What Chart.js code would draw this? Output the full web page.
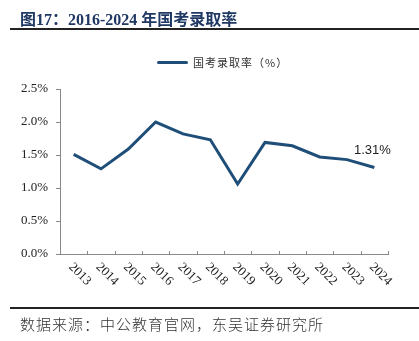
<!DOCTYPE html>
<html>
<head>
<meta charset="utf-8">
<script src="https://cdn.jsdelivr.net/npm/chart.js"></script>
<style>
    body { margin: 0; width: 419px; height: 341px; background: #fff; position: relative; overflow: hidden; }
    #chartBox { position: absolute; left: 0; top: 0; width: 419px; height: 341px; }
    .title {
        position: absolute; left: 20px; top: 6px;
        font-family: "Liberation Serif", "Noto Sans CJK SC", serif;
        font-weight: bold; font-size: 16px; color: #1f3864; white-space: nowrap;
    }
    .rule { position: absolute; left: 10px; width: 409px; height: 2px; background: #222; }
    .legend {
        position: absolute; left: 157px; top: 54px; height: 16px;
        font-family: "Noto Sans CJK SC", sans-serif; font-size: 11px; color: #333;
        display: flex; align-items: center; white-space: nowrap; letter-spacing: 1px;
    }
    .legend .swatch { width: 31px; height: 3px; background: #1f4e79; border-radius: 2px; margin-right: 5px; }
    .source {
        position: absolute; left: 20px; top: 313px;
        font-family: "Noto Sans CJK SC", serif; font-weight: 300; font-size: 15px; color: #333;
        letter-spacing: 1px; white-space: nowrap;
    }
</style>
</head>
<body>
<div id="chartBox"><canvas id="rateChart" width="419" height="341"></canvas></div>
<div class="title">图17：2016-2024 年国考录取率</div>
<div class="rule" style="top:28px"></div>
<div class="legend"><span class="swatch"></span>国考录取率（%）</div>
<div class="rule" style="top:307px"></div>
<div class="source">数据来源：中公教育官网，东吴证券研究所</div>

<script>
    // Categories and values
    const years = ["2013", "2014", "2015", "2016", "2017", "2018", "2019", "2020", "2021", "2022", "2023", "2024"];
    const admitRate = [1.51, 1.29, 1.59, 2.00, 1.82, 1.73, 1.06, 1.69, 1.64, 1.47, 1.43, 1.31];
    const yTicks = [0, 0.5, 1.0, 1.5, 2.0, 2.5];

    const lineColor = '#1f4e79';

    // Rotated year labels, small inward ticks and the last-point label
    const customAxis = {
        id: 'customAxis',
        afterDraw(chart) {
            const ctx = chart.ctx;
            const x = chart.scales.x;
            const area = chart.chartArea;
            ctx.save();

            // inward tick marks at category boundaries
            ctx.strokeStyle = '#888';
            ctx.lineWidth = 1;
            for (let i = 0; i <= years.length; i++) {
                const px = Math.round(x.getPixelForValue(i - 0.5)) + 0.5;
                ctx.beginPath();
                ctx.moveTo(px, area.bottom);
                ctx.lineTo(px, area.bottom - 3);
                ctx.stroke();
            }

            // year labels going down to the right
            ctx.fillStyle = '#222';
            ctx.font = '13px "Liberation Serif", serif';
            ctx.textAlign = 'left';
            ctx.textBaseline = 'middle';
            years.forEach((yr, i) => {
                const px = x.getPixelForValue(i);
                ctx.save();
                ctx.translate(px - 3, area.bottom + 11);
                ctx.rotate(Math.PI / 4);
                ctx.fillText(yr, 0, 0);
                ctx.restore();
            });

            // label for the latest value
            const meta = chart.getDatasetMeta(0);
            const last = meta.data[meta.data.length - 1];
            ctx.font = '13px "Liberation Sans", Arial, sans-serif';
            ctx.fillStyle = '#222';
            ctx.textAlign = 'center';
            ctx.textBaseline = 'bottom';
            ctx.fillText(admitRate[admitRate.length - 1].toFixed(2) + '%', last.x - 2, last.y - 11);
            ctx.restore();
        }
    };

    new Chart(document.getElementById('rateChart'), {
        type: 'line',
        data: {
            labels: years,
            datasets: [{
                label: '国考录取率（%）',
                data: admitRate,
                borderColor: lineColor,
                borderWidth: 3,
                pointRadius: 0,
                tension: 0,
                fill: false
            }]
        },
        options: {
            responsive: false,
            animation: false,
            layout: { padding: { left: 0, right: 31, top: 89, bottom: 0 } },
            plugins: { legend: { display: false }, tooltip: { enabled: false } },
            scales: {
                x: {
                    offset: true,
                    grid: { display: false },
                    border: { color: '#888', width: 1 },
                    ticks: { display: false },
                    afterFit: (s) => { s.height = 87; }
                },
                y: {
                    min: 0,
                    max: 2.5,
                    afterBuildTicks: (s) => { s.ticks = yTicks.map(v => ({ value: v })); },
                    grid: { drawOnChartArea: false, tickLength: 4, color: '#888' },
                    border: { color: '#888', width: 1 },
                    ticks: {
                        color: '#222',
                        padding: 8,
                        font: { family: '"Liberation Serif", serif', size: 13 },
                        callback: (v) => v.toFixed(1) + '%'
                    },
                    afterFit: (s) => { s.width = 60; }
                }
            }
        },
        plugins: [customAxis]
    });
</script>
</body>
</html>
